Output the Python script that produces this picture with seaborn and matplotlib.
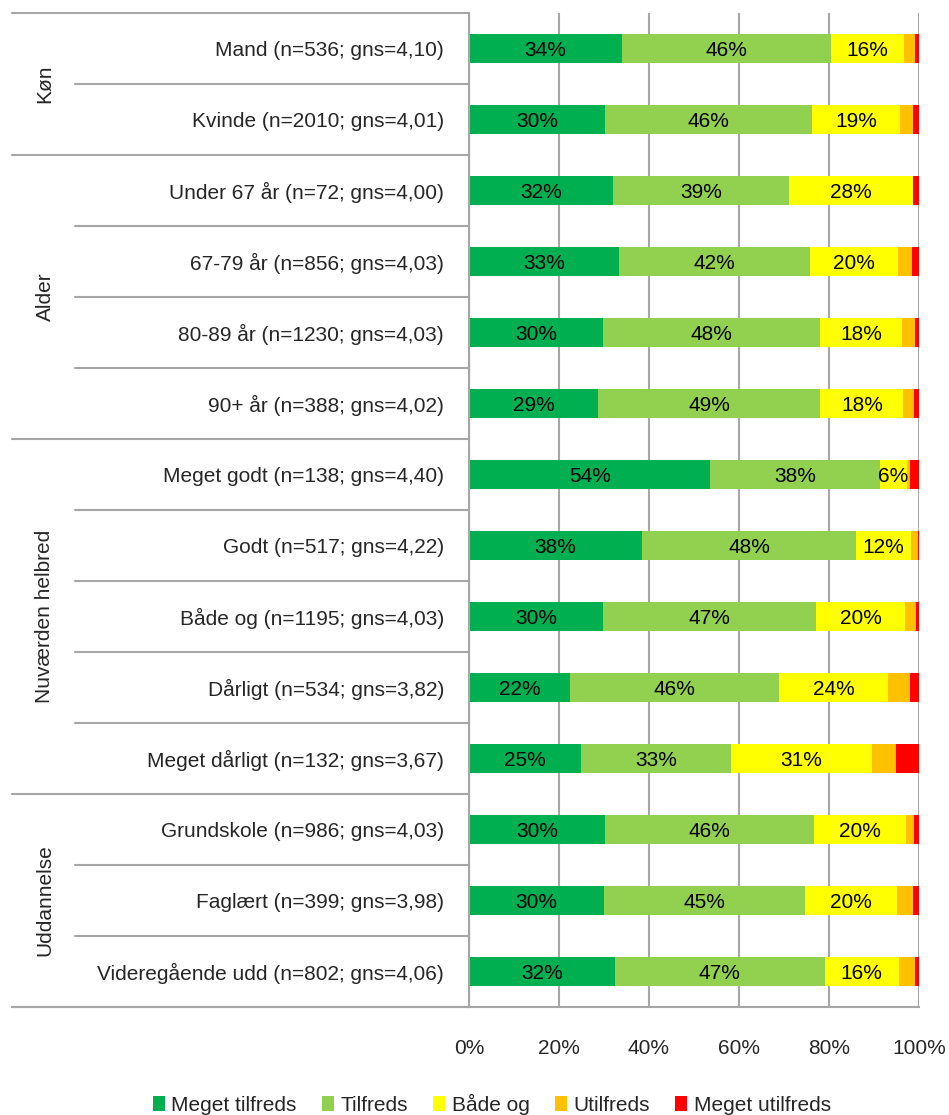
import pandas as pd
import matplotlib
matplotlib.use("Agg")
import matplotlib.pyplot as plt
import matplotlib.transforms as mtransforms
from matplotlib.patches import Patch
import seaborn as sns

# rows of the chart, top to bottom
labels = [
    "Mand (n=536; gns=4,10)",
    "Kvinde (n=2010; gns=4,01)",
    "Under 67 år (n=72; gns=4,00)",
    "67-79 år (n=856; gns=4,03)",
    "80-89 år (n=1230; gns=4,03)",
    "90+ år (n=388; gns=4,02)",
    "Meget godt (n=138; gns=4,40)",
    "Godt (n=517; gns=4,22)",
    "Både og (n=1195; gns=4,03)",
    "Dårligt (n=534; gns=3,82)",
    "Meget dårligt (n=132; gns=3,67)",
    "Grundskole (n=986; gns=4,03)",
    "Faglært (n=399; gns=3,98)",
    "Videregående udd (n=802; gns=4,06)",
]
groups = ["Køn", "Alder", "Nuværden helbred", "Uddannelse"]
group_sizes = [2, 4, 5, 3]

series = ["Meget tilfreds", "Tilfreds", "Både og", "Utilfreds", "Meget utilfreds"]
colors = ["#00B050", "#92D050", "#FFFF00", "#FFC000", "#FF0000"]

meget_tilfreds = [34.0, 30.2, 32.0, 33.3, 29.8, 28.7, 53.6, 38.4, 29.8, 22.4, 24.9, 30.2, 30.0, 32.4]
tilfreds = [46.4, 46.1, 39.0, 42.5, 48.3, 49.4, 37.7, 47.7, 47.4, 46.5, 33.3, 46.5, 44.7, 46.6]
baade_og = [16.3, 19.4, 27.7, 19.6, 18.2, 18.4, 6.0, 12.1, 19.7, 24.3, 31.4, 20.3, 20.3, 16.5]
utilfreds = [2.3, 3.0, 0.0, 3.0, 2.8, 2.3, 0.6, 1.6, 2.4, 4.8, 5.2, 1.9, 3.6, 3.5]
meget_utilfreds = [1.0, 1.3, 1.3, 1.6, 0.9, 1.2, 2.1, 0.2, 0.7, 2.0, 5.2, 1.1, 1.4, 1.0]

df = pd.DataFrame({
    "label": labels,
    "Meget tilfreds": meget_tilfreds,
    "Tilfreds": tilfreds,
    "Både og": baade_og,
    "Utilfreds": utilfreds,
    "Meget utilfreds": meget_utilfreds,
})
cum = df[series].cumsum(axis=1)

sns.set_style("white")
plt.rcParams["font.family"] = ["Liberation Sans", "DejaVu Sans"]
plt.rcParams["font.size"] = 15

fig = plt.figure(figsize=(9.49, 11.15), dpi=100)
ax = fig.add_axes([469 / 949, 108 / 1115, 450 / 949, 994 / 1115])

grid_c = "#A6A6A6"

# stacked bars: draw cumulative totals from the longest down
for s, c in reversed(list(zip(series, colors))):
    sns.barplot(x=cum[s], y=df["label"], color=c, width=0.42, orient="h",
                saturation=1, linewidth=0, ax=ax)

# segment labels
for s in series[:3]:
    for i, (v, end) in enumerate(zip(df[s], cum[s])):
        if v >= 5.5:
            ax.text(end - v / 2, i, f"{round(v):.0f}%", ha="center", va="center_baseline",
                    fontsize=15, color="black")

ax.set_xlim(0, 100)
ax.set_ylim(13.5, -0.5)
ax.set_xticks(range(0, 101, 20))
ax.set_xticklabels([f"{t}%" for t in range(0, 101, 20)])
ax.set_xlabel("")
ax.set_ylabel("")
ax.set_axisbelow(True)
ax.xaxis.grid(True, color=grid_c, lw=1.5)
ax.tick_params(axis="x", length=5, width=1.5, color=grid_c, pad=18)
ax.tick_params(axis="y", length=0, pad=18)
for side in ["top", "right"]:
    ax.spines[side].set_visible(False)
for side in ["left", "bottom"]:
    ax.spines[side].set_color(grid_c)
    ax.spines[side].set_linewidth(1.5)

# row / group separators in the left margin
trans = mtransforms.blended_transform_factory(ax.transAxes, ax.transData)
x_group = (12 - 469) / 450
x_row = (75 - 469) / 450
ax.plot([x_group, 0], [-0.5, -0.5], color=grid_c, lw=1.5, transform=trans, clip_on=False)
ax.plot([x_group, 0], [13.5, 13.5], color=grid_c, lw=1.5, transform=trans, clip_on=False)
start = 0
for g, n in zip(groups, group_sizes):
    for k in range(1, n):
        y = start + k - 0.5
        ax.plot([x_row, 0], [y, y], color=grid_c, lw=1.5, transform=trans, clip_on=False)
    end = start + n - 0.5
    ax.plot([x_group, 0], [end, end], color=grid_c, lw=1.5, transform=trans, clip_on=False)
    ax.text((45 - 469) / 450, start - 0.5 + n / 2, g, rotation=90, ha="center",
            va="center", fontsize=15, transform=trans)
    start += n

handles = [Patch(facecolor=c, edgecolor="none", label=s) for s, c in zip(series, colors)]
fig.legend(handles=handles, loc="lower center", bbox_to_anchor=(0.518, -0.009), ncol=5,
           frameon=False, fontsize=15, handlelength=0.6, handleheight=0.7,
           handletextpad=0.3, columnspacing=1.2, borderpad=0)

fig.savefig("out.png", dpi=100)
